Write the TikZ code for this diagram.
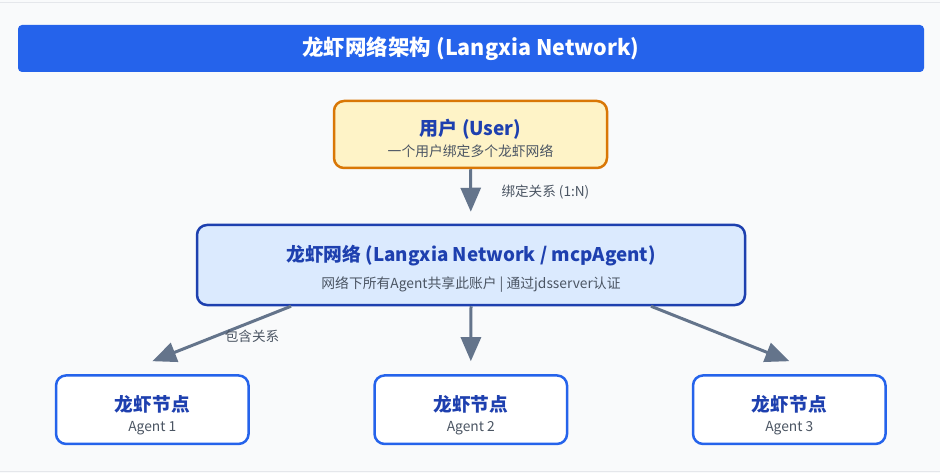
\documentclass[tikz,border=0pt]{standalone}
\usepackage{fontspec}
\setmainfont{Noto Sans CJK SC}
\usepackage{tikz}
\usetikzlibrary{arrows.meta, positioning, calc}

\definecolor{pagebg}{HTML}{F9FAFB}
\definecolor{barblue}{HTML}{2563EB}
\definecolor{headblue}{HTML}{1E40AF}
\definecolor{subgray}{HTML}{4B5563}
\definecolor{arrowgray}{HTML}{64748B}
\definecolor{userfill}{HTML}{FEF3C7}
\definecolor{userline}{HTML}{D97706}
\definecolor{netfill}{HTML}{DBEAFE}
\definecolor{frameline}{HTML}{E5E7EB}

% title line (bold), gap, sub line; #5 = strut above the title
\newcommand{\boxlabel}[5]{%
  {\fontsize{#3}{#3}\selectfont\bfseries\color{headblue}\rule{0pt}{#5}#1}\\[#4]%
  {\fontsize{13.8}{13.8}\selectfont\color{subgray}#2}}

\begin{document}
\begin{tikzpicture}[
    x=1pt, y=-1pt,
    titlebar/.style={fill=barblue, rounded corners=4pt, minimum width=906pt,
                minimum height=47pt, text=white, font=\fontsize{21.5}{21.5}\selectfont\bfseries},
    userbox/.style={draw=userline, fill=userfill, line width=2.5pt, rounded corners=10pt,
                minimum width=273pt, minimum height=67pt, align=center, inner sep=2pt},
    netbox/.style={draw=headblue, fill=netfill, line width=2.5pt, rounded corners=10pt,
                minimum width=548pt, minimum height=80pt, align=center, inner sep=2pt},
    agentbox/.style={draw=barblue, fill=white, line width=2.5pt, rounded corners=10pt,
                minimum width=192.5pt, minimum height=68.5pt, align=center, inner sep=2pt},
    arrow/.style={-{Triangle[length=24pt, width=20pt]}, line width=3pt, draw=arrowgray},
    edgelabel/.style={text=subgray, font=\fontsize{13.6}{13.6}\selectfont},
    node distance=123.5pt
]
\fill[pagebg] (0,0) rectangle (940,473);
\useasboundingbox (0,0) rectangle (940,473);
\draw[frameline, line width=1pt] (0,3) -- (940,3);
\draw[frameline, line width=1pt] (0,471.5) -- (940,471.5);

\node[titlebar] (title) at (471,48.5) {龙虾网络架构 (Langxia Network)};
\node[userbox] (user) at (470.5,134.5)
    {\boxlabel{用户 (User)}{一个用户绑定多个龙虾网络}{19}{4pt}{24pt}};
\node[netbox] (net) at (471,265)
    {\boxlabel{龙虾网络 (Langxia Network / mcpAgent)}{网络下所有Agent共享此账户 | 通过jdsserver认证}{18.8}{10pt}{24pt}};
\node[agentbox] (agent2) at (470.8,409.7)
    {\boxlabel{龙虾节点}{Agent 2}{18.7}{8pt}{27pt}};
\node[agentbox, left=of agent2] (agent1)
    {\boxlabel{龙虾节点}{Agent 1}{18.7}{8pt}{27pt}};
\node[agentbox, right=of agent2] (agent3)
    {\boxlabel{龙虾节点}{Agent 3}{18.7}{8pt}{27pt}};

\draw[arrow, shorten >=12pt] (user) -- (net);
\node[edgelabel, anchor=west] (bindlabel) at (498,192) {绑定关系 (1:N)};

% arrows stop a little above the agent boxes
\coordinate (netleft) at ($(net.south)+(-180,0)$);
\coordinate (netright) at ($(net.south)+(180,0)$);
\coordinate (tip1) at ($(agent1.north)+(0,-13)$);
\coordinate (tip3) at ($(agent3.north)+(0,-13)$);
\draw[arrow] (netleft) -- (tip1);
\draw[arrow, shorten >=13pt] (net.south) -- (agent2.north);
\draw[arrow] (netright) -- (tip3);
\node[edgelabel] (haslabel) at (252,336) {包含关系};
\end{tikzpicture}
\end{document}
